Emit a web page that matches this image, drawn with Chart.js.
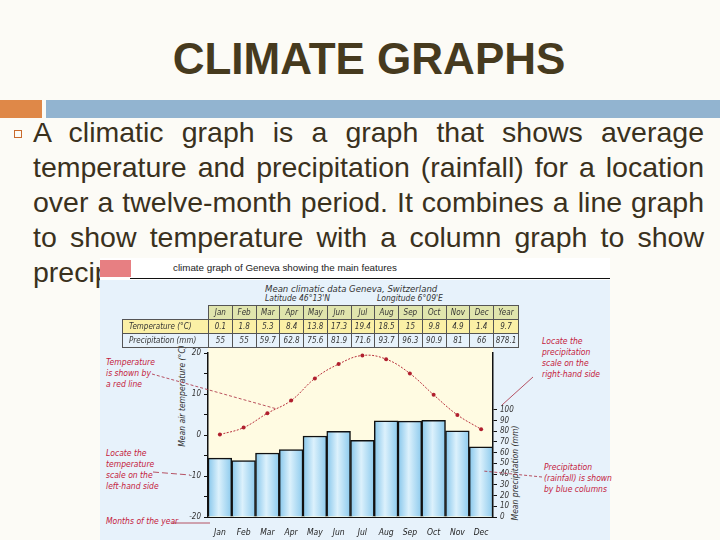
<!DOCTYPE html>
<html>
<head>
<meta charset="utf-8">
<script src="https://cdn.jsdelivr.net/npm/chart.js@4.4.0/dist/chart.umd.min.js"></script>
<style>
  body { margin: 0; width: 720px; height: 540px; overflow: hidden; position: relative;
         background: #fcfbf6; font-family: "Liberation Sans", Arial, sans-serif; }
  #title { position: absolute; top: 37px; left: 0; width: 738px; text-align: center;
           font-size: 44px; line-height: 44px; font-weight: bold; color: #463a1e; }
  #orange { position: absolute; left: 0; top: 100px; width: 42px; height: 18px; background: #df8848; }
  #blueBar { position: absolute; left: 46px; top: 100px; width: 674px; height: 18px; background: #92b4d0; }
  #bullet { position: absolute; left: 14px; top: 130px; width: 6px; height: 6px; border: 1.5px solid #c96a2c; }
  .line { position: absolute; left: 33px; width: 671px; font-size: 28.5px; line-height: 35px;
          color: #3a311d; text-align: justify; text-align-last: justify; white-space: nowrap; }
  .line.last { text-align-last: left; }
  #fig { position: absolute; left: 100px; top: 258px; width: 510px; height: 282px; background: #fff; }
  #pink { position: absolute; left: 0; top: 2px; width: 31px; height: 17px; background: #e77f82; }
  #caption { position: absolute; left: 73px; top: 4px; font-size: 9.8px; color: #222; }
  #rule { position: absolute; left: 30px; top: 20px; width: 480px; height: 1px; background: #111; }
  #panel { position: absolute; left: 0; top: 22px; width: 510px; height: 260px; background: #e7f2fb; }
  .hand { position: absolute; font-family: "Liberation Sans Narrow", "DejaVu Sans Condensed", sans-serif;
          font-style: italic; font-size: 8.5px; line-height: 11px; color: #333; white-space: nowrap; }
  .note { color: #c4213b; }
  #climate { position: absolute; left: 22px; top: 47px; border-collapse: collapse; table-layout: fixed; z-index: 2; }
  #climate td { border: 1px solid #555; height: 13px; padding: 0; text-align: center;
                font-family: "Liberation Sans Narrow", "DejaVu Sans Condensed", sans-serif;
                font-style: italic; font-size: 8px; color: #333; }
  #climate td.lab { text-align: left; padding-left: 6px; }
  #climate tr.head td { background: #e0e5ad; }
  #climate tr.head td.blank { background: transparent; border: none; }
  #climate tr.temp td { background: #fbf0a6; }
  #chartBox { position: absolute; left: 0; top: 82px; width: 510px; height: 200px; z-index: 1; }
  .axisTitle { transform: translate(-50%, -50%) rotate(-90deg); }
</style>
</head>
<body>
<div id="title">CLIMATE GRAPHS</div>
<div id="orange"></div>
<div id="blueBar"></div>
<div id="bullet"></div>
<div class="line" style="top:115px">A climatic graph is a graph that shows average</div>
<div class="line" style="top:150px">temperature and precipitation (rainfall) for a location</div>
<div class="line" style="top:185px">over a twelve-month period. It combines a line graph</div>
<div class="line" style="top:220px">to show temperature with a column graph to show</div>
<div class="line last" style="top:255px">precipitation.</div>

<div id="fig">
  <div id="pink"></div>
  <div id="caption">climate graph of Geneva showing the main features</div>
  <div id="rule"></div>
  <div id="panel"></div>
  <div class="hand" style="left:165px; top:25px; font-size:9.5px">Mean climatic data Geneva, Switzerland</div>
  <div class="hand" style="left:165px; top:35px">Latitude 46°13'N</div>
  <div class="hand" style="left:277px; top:35px">Longitude 6°09'E</div>
  <table id="climate"></table>

  <div class="hand axisTitle" style="left:82px; top:138px">Mean air temperature (°C)</div>
  <div class="hand axisTitle" style="left:415px; top:215px">Mean precipitation (mm)</div>

  <div class="hand note" style="left:6px; top:99px">Temperature<br>is shown by<br>a red line</div>
  <div class="hand note" style="left:6px; top:190px">Locate the<br>temperature<br>scale on the<br>left-hand side</div>
  <div class="hand note" style="left:6px; top:258px">Months of the year</div>
  <div class="hand note" style="left:442px; top:78px">Locate the<br>precipitation<br>scale on the<br>right-hand side</div>
  <div class="hand note" style="left:444px; top:204px">Precipitation<br>(rainfall) is shown<br>by blue columns</div>

  <div id="chartBox"><canvas id="chart" width="510" height="200"></canvas></div>
</div>

<script>
  // Chart data
  const months = ['Jan', 'Feb', 'Mar', 'Apr', 'May', 'Jun', 'Jul', 'Aug', 'Sep', 'Oct', 'Nov', 'Dec'];
  const temperature = [0.1, 1.8, 5.3, 8.4, 13.8, 17.3, 19.4, 18.5, 15, 9.8, 4.9, 1.4];
  const precipitation = [55, 52.6, 59.7, 62.8, 75.6, 80, 71.6, 89.7, 89.4, 90.3, 80.5, 65.5];
  const tempTicks = [-20, -15, -10, -5, 0, 5, 10, 15, 20];
  const rainTicks = [0, 10, 20, 30, 40, 50, 60, 70, 80, 90, 100];

  // Table text as printed above the graph
  const tableTemp = ['0.1', '1.8', '5.3', '8.4', '13.8', '17.3', '19.4', '18.5', '15', '9.8', '4.9', '1.4', '9.7'];
  const tableRain = ['55', '55', '59.7', '62.8', '75.6', '81.9', '71.6', '93.7', '96.3', '90.9', '81', '66', '878.1'];

  // Leader lines for the notes, in canvas pixels
  const leaders = [
    { from: [52, 34], to: [177, 69], dash: [3, 2] },
    { from: [53, 132], to: [90, 135], dash: [6, 3] },
    { from: [72, 183], to: [110, 183], dash: [] },
    { from: [433, 37], to: [402, 65], dash: [] },
    { from: [442, 137], to: [383, 131], dash: [3, 2] }
  ];

  // Build the table
  const table = document.getElementById('climate');
  const colWidth = 285 / months.length;
  const colgroup = document.createElement('colgroup');
  colgroup.innerHTML = '<col style="width:86px">' +
    months.map(() => `<col style="width:${colWidth}px">`).join('') + '<col style="width:25px">';
  table.appendChild(colgroup);
  table.innerHTML += '<tr class="head"><td class="blank"></td>' +
    months.concat(['Year']).map(m => `<td>${m}</td>`).join('') + '</tr>';
  table.innerHTML += '<tr class="temp"><td class="lab">Temperature (°C)</td>' +
    tableTemp.map(v => `<td>${v}</td>`).join('') + '</tr>';
  table.innerHTML += '<tr class="rain"><td class="lab">Precipitation (mm)</td>' +
    tableRain.map(v => `<td>${v}</td>`).join('') + '</tr>';

  // Cream plot background and note leader lines
  const decor = {
    id: 'decor',
    beforeDraw(chart) {
      const { ctx, chartArea: a } = chart;
      ctx.save();
      ctx.fillStyle = '#fffbe2';
      ctx.fillRect(a.left, a.top - 6, a.right - a.left, a.bottom - a.top + 6);
      ctx.restore();
    },
    afterDraw(chart) {
      const ctx = chart.ctx;
      ctx.save();
      ctx.strokeStyle = '#a8283c';
      ctx.lineWidth = 0.8;
      leaders.forEach(l => {
        ctx.setLineDash(l.dash);
        ctx.beginPath();
        ctx.moveTo(l.from[0], l.from[1]);
        ctx.lineTo(l.to[0], l.to[1]);
        ctx.stroke();
      });
      ctx.restore();
    }
  };

  const barGradient = (context) => {
    const chart = context.chart;
    const area = chart.chartArea;
    if (!area || context.type !== 'data') return '#a9d8f2';
    const x = chart.scales.x.getPixelForValue(context.dataIndex);
    const w = (area.right - area.left) / months.length;
    const g = chart.ctx.createLinearGradient(x - w / 2, 0, x + w / 2, 0);
    g.addColorStop(0, '#86c6eb');
    g.addColorStop(0.45, '#dcf1fc');
    g.addColorStop(1, '#8ccaed');
    return g;
  };

  Chart.defaults.font.family = '"Liberation Sans Narrow", "DejaVu Sans Condensed", sans-serif';
  Chart.defaults.font.style = 'italic';
  Chart.defaults.font.size = 8;
  Chart.defaults.color = '#333';

  new Chart(document.getElementById('chart'), {
    data: {
      labels: months,
      datasets: [
        {
          type: 'line',
          label: 'Temperature',
          data: temperature,
          yAxisID: 'y',
          order: 0,
          borderColor: '#b8303c',
          borderWidth: 1,
          borderDash: [2, 1.5],
          tension: 0.4,
          pointRadius: 2,
          pointBackgroundColor: '#b01f2e',
          pointBorderWidth: 0
        },
        {
          type: 'bar',
          label: 'Precipitation',
          data: precipitation,
          yAxisID: 'y1',
          order: 1,
          backgroundColor: barGradient,
          borderColor: '#111',
          borderWidth: { top: 1.5, left: 1.5, right: 1.5, bottom: 0 },
          borderSkipped: 'bottom',
          barPercentage: 1,
          categoryPercentage: 1
        }
      ]
    },
    options: {
      responsive: false,
      animation: false,
      layout: { padding: { left: 68, right: 85, top: 13, bottom: 3 } },
      plugins: { legend: { display: false }, tooltip: { enabled: false } },
      scales: {
        x: {
          grid: { display: false },
          border: { display: true, color: '#111', width: 1 },
          ticks: { padding: 3, color: '#222', font: { size: 8.5 } },
          afterFit: scale => { scale.height = 20; }
        },
        y: {
          position: 'left',
          min: -20,
          max: 20,
          afterBuildTicks: scale => { scale.ticks = tempTicks.map(v => ({ value: v })); },
          ticks: { padding: 3, callback: v => (v % 10 === 0 ? v : '') },
          grid: { drawOnChartArea: false, tickLength: 4, color: '#111' },
          border: { display: true, color: '#111', width: 1.5 },
          afterFit: scale => { scale.width = 40; }
        },
        y1: {
          position: 'right',
          min: 0,
          max: 153,
          afterBuildTicks: scale => { scale.ticks = rainTicks.map(v => ({ value: v })); },
          ticks: { padding: 3 },
          grid: { drawOnChartArea: false, tickLength: 4, color: '#111' },
          border: { display: true, color: '#111', width: 1.5 },
          afterFit: scale => { scale.width = 32; }
        }
      }
    },
    plugins: [decor]
  });
</script>
</body>
</html>
